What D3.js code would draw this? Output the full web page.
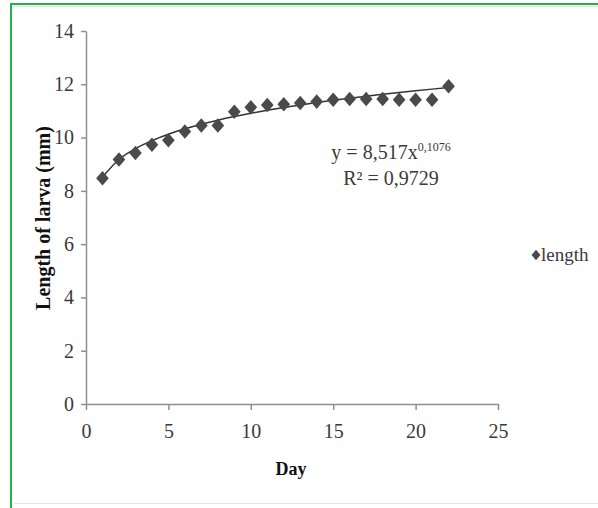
<!DOCTYPE html>
<html>
<head>
<meta charset="utf-8">
<script src="https://cdn.jsdelivr.net/npm/d3@7"></script>
<style>
  body { margin: 0; background: #fff; }
  svg { display: block; font-family: "Liberation Serif", "Times New Roman", serif; }
</style>
</head>
<body>
<div id="chart"></div>
<script>
// data
const days = [1, 2, 3, 4, 5, 6, 7, 8, 9, 10, 11, 12, 13, 14, 15, 16, 17, 18, 19, 20, 21, 22];
const lengths = [8.47, 9.18, 9.42, 9.73, 9.9, 10.23, 10.45, 10.45, 10.97, 11.14, 11.22, 11.25, 11.3, 11.35, 11.42, 11.45, 11.45, 11.45, 11.42, 11.42, 11.42, 11.93];
const xTicks = [0, 5, 10, 15, 20, 25];
const yTicks = [0, 2, 4, 6, 8, 10, 12, 14];
const seriesName = "length";
// power trendline shown on the chart
const trendA = 8.517, trendB = 0.1076;
const trendLabel = "0,9729";

const W = 598, H = 508;
const margin = { top: 31, right: 100, bottom: 104, left: 86 },
      width = 498 - margin.left,
      height = 404 - margin.top;

const root = d3.select("#chart").append("svg")
    .attr("width", W)
    .attr("height", H);

// frame
root.append("rect").attr("x", 0).attr("y", 0).attr("width", W).attr("height", H).attr("fill", "#fff");
root.append("line").attr("x1", 11).attr("x2", W).attr("y1", 4).attr("y2", 4)
    .attr("stroke", "#22b14c").attr("stroke-width", 2);
root.append("line").attr("x1", 11).attr("x2", 11).attr("y1", 3).attr("y2", H)
    .attr("stroke", "#22b14c").attr("stroke-width", 2);
root.append("line").attr("x1", 14).attr("x2", W).attr("y1", 6.5).attr("y2", 6.5)
    .attr("stroke", "#e4e4e4").attr("stroke-width", 1);
root.append("line").attr("x1", 14).attr("x2", W).attr("y1", 503.5).attr("y2", 503.5)
    .attr("stroke", "#e4e4e4").attr("stroke-width", 1);

const svg = root.append("g")
    .attr("transform", `translate(${margin.left},${margin.top})`);

const x = d3.scaleLinear().domain([0, 25]).range([0, width]);
const y = d3.scaleLinear().domain([0, 14]).range([height, 0]);

// axes
const xAxis = svg.append("g")
    .attr("transform", `translate(0,${height})`)
    .call(d3.axisBottom(x).tickValues(xTicks).tickSize(6).tickSizeOuter(0).tickPadding(14));
const yAxis = svg.append("g")
    .call(d3.axisLeft(y).tickValues(yTicks).tickSize(5).tickSizeOuter(0).tickPadding(7));

[xAxis, yAxis].forEach(a => {
    a.selectAll("path, line").attr("stroke", "#8f8f8f").attr("stroke-width", 1.5);
    a.selectAll("text")
        .style("font-family", "'Liberation Serif', serif")
        .style("font-size", "20px")
        .attr("fill", "#3a3a3a");
});

// axis titles
svg.append("text")
    .attr("text-anchor", "middle")
    .attr("x", 205)
    .attr("y", height + 71)
    .style("font-size", "18px")
    .style("font-weight", "bold")
    .attr("fill", "#111")
    .text("Day");

svg.append("text")
    .attr("text-anchor", "middle")
    .attr("transform", `translate(${50 - margin.left},${218 - margin.top}) rotate(-90)`)
    .style("font-size", "20px")
    .style("font-weight", "bold")
    .attr("fill", "#111")
    .text("Length of larva (mm)");

// trendline
const line = d3.line()
    .x(d => x(d))
    .y(d => y(trendA * Math.pow(d, trendB)))
    .curve(d3.curveMonotoneX);

svg.append("path")
    .datum(days)
    .attr("fill", "none")
    .attr("stroke", "#333")
    .attr("stroke-width", 1.5)
    .attr("d", line);

// slightly tall diamond marker, like the spreadsheet one
const tallDiamond = {
    draw(ctx, size) {
        const w = Math.sqrt(size) / 2, h = w * 1.15;
        ctx.moveTo(0, -h);
        ctx.lineTo(w, 0);
        ctx.lineTo(0, h);
        ctx.lineTo(-w, 0);
        ctx.closePath();
    }
};

// points
svg.selectAll(".pt")
    .data(days.map((d, i) => ({ day: d, len: lengths[i] })))
    .join("path")
    .attr("class", "pt")
    .attr("transform", d => `translate(${x(d.day)},${y(d.len)})`)
    .attr("d", d3.symbol().type(tallDiamond).size(160))
    .attr("fill", "#4a4a4a");

// equation
const eq = svg.append("text")
    .attr("text-anchor", "middle")
    .attr("x", 391 - margin.left)
    .attr("y", 159 - margin.top)
    .style("font-size", "20px")
    .attr("fill", "#3a3a3a");
eq.append("tspan").text(`y = ${String(trendA).replace(".", ",")}x`);
eq.append("tspan").attr("dy", -8).style("font-size", "12px").text(String(trendB).replace(".", ","));

svg.append("text")
    .attr("text-anchor", "middle")
    .attr("x", 391 - margin.left)
    .attr("y", 185 - margin.top)
    .style("font-size", "20px")
    .attr("fill", "#3a3a3a")
    .text(`R² = ${trendLabel}`);

// legend
const legend = root.append("g").attr("transform", "translate(536,255)");
legend.append("path")
    .attr("d", d3.symbol().type(tallDiamond).size(80))
    .attr("fill", "#4a4a4a");
legend.append("text")
    .attr("x", 5)
    .attr("y", 6)
    .style("font-size", "19px")
    .attr("fill", "#3a3a3a")
    .text(seriesName);
</script>
</body>
</html>
